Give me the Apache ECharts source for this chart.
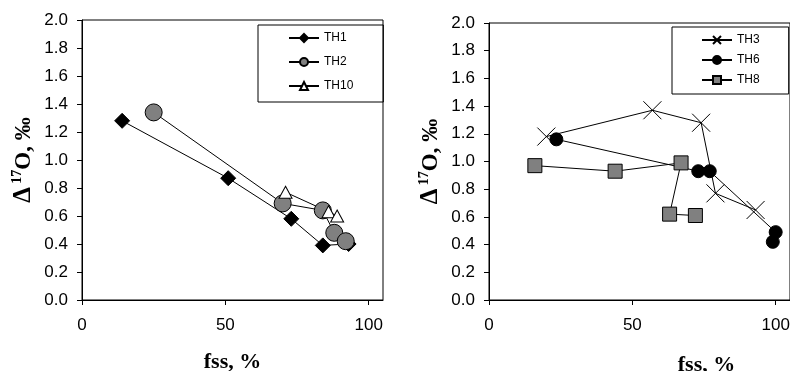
<!DOCTYPE html>
<html>
<head>
<meta charset="utf-8">
<script src="https://cdn.jsdelivr.net/npm/echarts@6/dist/echarts.min.js"></script>
<style>
  html, body { margin: 0; padding: 0; background: #fff; }
  #chart { width: 790px; height: 371px; }
</style>
</head>
<body>
<div id="chart"></div>
<script>
// left panel
const th1X = [14, 51, 73, 84, 93];
const th1Y = [1.28, 0.87, 0.58, 0.39, 0.40];
const th2X = [25, 70, 84, 88, 92];
const th2Y = [1.34, 0.69, 0.64, 0.48, 0.42];
const th10X = [71, 86, 89];
const th10Y = [0.77, 0.63, 0.60];
// right panel
const th3X = [20, 57, 74, 79, 93];
const th3Y = [1.18, 1.37, 1.28, 0.77, 0.65];
const th6X = [23.5, 73, 77, 100, 99];
const th6Y = [1.16, 0.93, 0.93, 0.49, 0.42];
const th8X = [16, 44, 67, 63, 72];
const th8Y = [0.97, 0.93, 0.99, 0.62, 0.61];
const xTicks = [0, 50, 100];

const FONT = 'Liberation Sans';
const SERIF = 'Liberation Serif';

function pairs(xs, ys) {
  return xs.map((x, i) => [x, ys[i]]);
}

function xAxisCfg(idx, gap, namePad) {
  return {
    type: 'value', gridIndex: idx, min: 0, max: 105,
    name: 'fss, %', nameLocation: 'middle', nameGap: gap,
    nameTextStyle: { fontFamily: SERIF, fontWeight: 'bold', fontSize: 22, color: '#000', padding: namePad },
    axisLine: { lineStyle: { color: '#000', width: 1 } },
    axisTick: { show: true, inside: false, length: 5, customValues: xTicks, lineStyle: { color: '#000' } },
    axisLabel: { customValues: xTicks, margin: 17, fontFamily: FONT, fontSize: 17, color: '#000' },
    splitLine: { show: false }
  };
}

function yAxisCfg(idx) {
  return {
    type: 'value', gridIndex: idx, min: 0, max: 2, interval: 0.2,
    name: '{d|Δ} {s|17}{o|O, ‰}', nameLocation: 'middle', nameGap: 46,
    nameTextStyle: {
      color: '#000',
      rich: {
        d: { fontFamily: SERIF, fontWeight: 'bold', fontSize: 25, lineHeight: 26, verticalAlign: 'bottom' },
        s: { fontFamily: SERIF, fontWeight: 'bold', fontSize: 14, lineHeight: 26, verticalAlign: 'top' },
        o: { fontFamily: SERIF, fontWeight: 'bold', fontSize: 23, lineHeight: 26, verticalAlign: 'bottom' }
      }
    },
    axisLine: { show: true, lineStyle: { color: '#000', width: 1 } },
    axisTick: { show: true, inside: false, length: 5, lineStyle: { color: '#000' } },
    axisLabel: { margin: 14, fontFamily: FONT, fontSize: 17, color: '#000', formatter: v => v.toFixed(1) },
    splitLine: { show: false }
  };
}

function lineSeries(name, idx, data, symbol, size, fill) {
  return {
    name: name, type: 'line', xAxisIndex: idx, yAxisIndex: idx,
    data: data, symbol: symbol, symbolSize: size, showAllSymbol: true,
    lineStyle: { color: '#000', width: 1 },
    itemStyle: { color: fill, borderColor: '#000', borderWidth: 1 },
    emphasis: { disabled: true },
    animation: false
  };
}

const crossPath = 'path://M0,0L20,20M20,0L0,20';

const chart = echarts.init(document.getElementById('chart'), null, { renderer: 'canvas' });
chart.setOption({
  backgroundColor: '#fff',
  animation: false,
  grid: [
    { left: 82, top: 20, width: 301, height: 280, outerBoundsMode: 'none', show: true, borderColor: '#000', borderWidth: 1 },
    { left: 489, top: 23, width: 301, height: 277, outerBoundsMode: 'none', show: true, borderColor: '#000', borderWidth: 1 }
  ],
  xAxis: [xAxisCfg(0, 51, [0, 0, 0, 0]), xAxisCfg(1, 54, [0, 0, 0, 134])],
  yAxis: [yAxisCfg(0), yAxisCfg(1)],
  legend: [
    {
      data: ['TH1', 'TH2', 'TH10'], orient: 'vertical', left: 258, top: 25,
      padding: [6, 30, 9, 30], itemGap: 10, itemWidth: 30, itemHeight: 10, itemTextGap: 4,
      borderColor: '#000', borderWidth: 1, selectedMode: false,
      textStyle: { fontFamily: FONT, fontSize: 12, color: '#000', lineHeight: 14 }
    },
    {
      data: ['TH3', 'TH6', 'TH8'], orient: 'vertical', left: 672, top: 27,
      padding: [6, 29, 7, 29], itemGap: 6, itemWidth: 30, itemHeight: 10, itemTextGap: 4,
      borderColor: '#000', borderWidth: 1, selectedMode: false,
      textStyle: { fontFamily: FONT, fontSize: 12, color: '#000', lineHeight: 14 }
    }
  ],
  series: [
    lineSeries('TH1', 0, pairs(th1X, th1Y), 'diamond', 15, '#000'),
    lineSeries('TH2', 0, pairs(th2X, th2Y), 'circle', 17, '#808080'),
    lineSeries('TH10', 0, pairs(th10X, th10Y), 'triangle', [13, 12], '#fff'),
    lineSeries('TH3', 1, pairs(th3X, th3Y), crossPath, 18, 'none'),
    lineSeries('TH6', 1, pairs(th6X, th6Y), 'circle', 13, '#000'),
    lineSeries('TH8', 1, pairs(th8X, th8Y), 'rect', 14, '#808080')
  ]
});
</script>
</body>
</html>
